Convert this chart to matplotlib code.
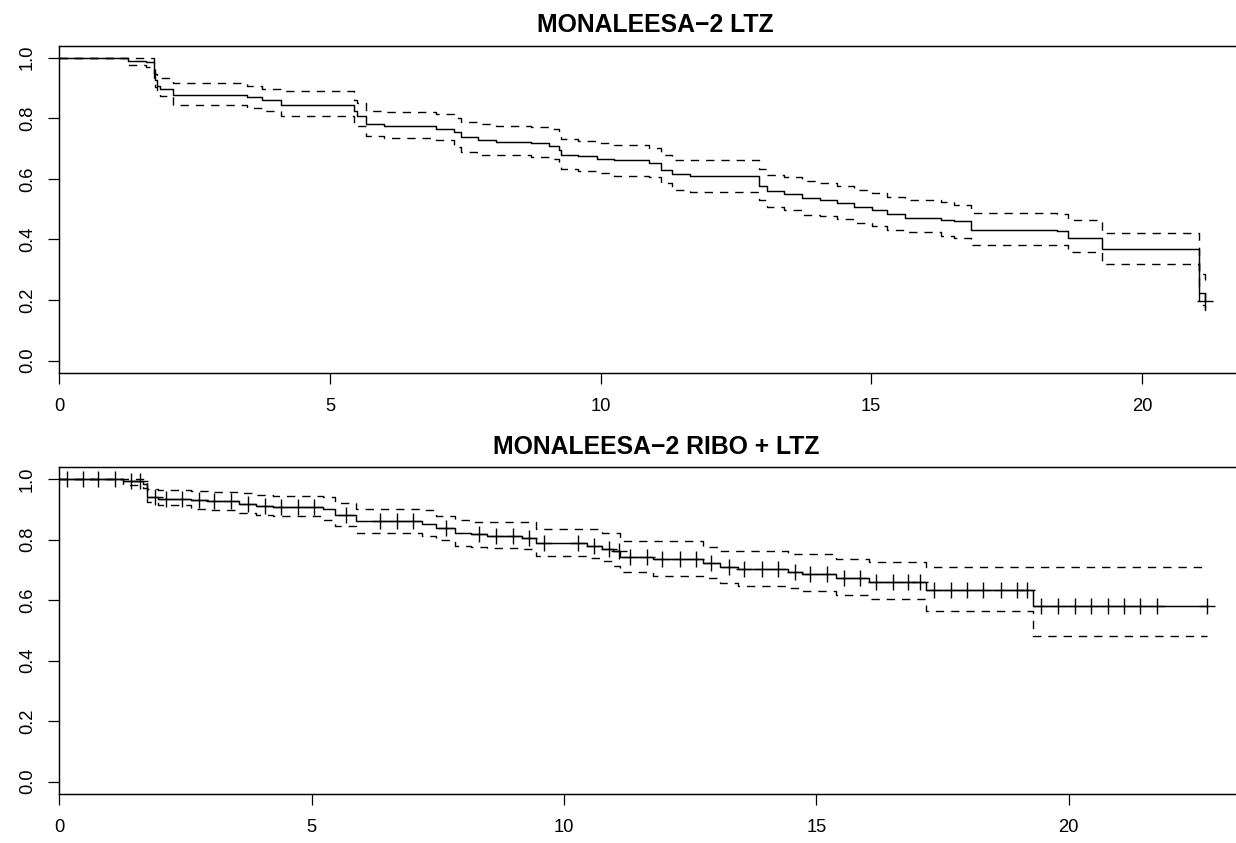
import numpy as np
import matplotlib
matplotlib.use("Agg")
import matplotlib.pyplot as plt

plt.rcParams["font.family"] = ["Liberation Sans", "DejaVu Sans"]
plt.rcParams["lines.scale_dashes"] = False

# ---- MONALEESA-2, letrozole arm: event times, survival and 95% CI ----
ltz_time = [0.00, 1.26, 1.61, 1.75, 1.77, 1.80, 1.86, 2.10, 3.46, 3.75, 4.09,
            5.45, 5.50, 5.67, 5.99, 6.96, 7.30, 7.43, 7.73, 8.07, 8.72, 9.05,
            9.23, 9.26, 9.59, 9.93, 10.24, 10.89, 11.12, 11.32, 11.65, 12.92,
            13.08, 13.38, 13.72, 14.06, 14.37, 14.69, 15.01, 15.30, 15.63,
            16.28, 16.52, 16.84, 18.43, 18.63, 19.26, 21.05, 21.17]
ltz_surv = [1.000, 0.988, 0.985, 0.949, 0.927, 0.908, 0.898, 0.878, 0.869,
            0.859, 0.845, 0.823, 0.809, 0.781, 0.776, 0.765, 0.754, 0.737,
            0.727, 0.723, 0.718, 0.710, 0.696, 0.680, 0.675, 0.667, 0.662,
            0.652, 0.630, 0.615, 0.609, 0.578, 0.559, 0.549, 0.536, 0.529,
            0.520, 0.506, 0.496, 0.483, 0.472, 0.463, 0.460, 0.431, 0.428,
            0.406, 0.369, 0.222, 0.196]
ltz_upper = [1.000, 1.000, 1.000, 0.975, 0.945, 0.933, 0.933, 0.917, 0.908,
             0.898, 0.889, 0.862, 0.850, 0.825, 0.821, 0.813, 0.800, 0.787,
             0.781, 0.773, 0.770, 0.765, 0.745, 0.731, 0.724, 0.718, 0.713,
             0.702, 0.680, 0.662, 0.662, 0.632, 0.614, 0.605, 0.592, 0.586,
             0.578, 0.565, 0.553, 0.540, 0.530, 0.523, 0.515, 0.487, 0.485,
             0.463, 0.420, 0.285, 0.255]
ltz_lower = [1.000, 0.975, 0.968, 0.925, 0.903, 0.885, 0.872, 0.843, 0.835,
             0.823, 0.806, 0.784, 0.773, 0.741, 0.735, 0.728, 0.705, 0.690,
             0.680, 0.678, 0.672, 0.665, 0.645, 0.632, 0.625, 0.618, 0.611,
             0.605, 0.586, 0.564, 0.556, 0.529, 0.506, 0.498, 0.482, 0.476,
             0.469, 0.455, 0.446, 0.432, 0.424, 0.413, 0.405, 0.383, 0.381,
             0.359, 0.319, 0.185, 0.160]
ltz_end = 21.17
ltz_censor = [21.17]

# ---- MONALEESA-2, ribociclib + letrozole arm ----
ribo_time = [0.00, 1.27, 1.66, 1.74, 1.96, 2.61, 2.94, 3.57, 3.90, 4.23, 5.22,
             5.47, 5.87, 7.18, 7.47, 7.84, 8.15, 8.48, 9.16, 9.44, 10.45,
             10.75, 10.98, 11.11, 11.77, 12.76, 13.10, 13.44, 14.43, 14.72,
             15.39, 16.05, 17.18, 19.30]
ribo_surv = [1.000, 0.993, 0.985, 0.940, 0.936, 0.930, 0.927, 0.919, 0.913,
             0.907, 0.902, 0.883, 0.861, 0.851, 0.838, 0.823, 0.818, 0.812,
             0.805, 0.790, 0.781, 0.770, 0.762, 0.744, 0.735, 0.724, 0.711,
             0.702, 0.694, 0.688, 0.672, 0.662, 0.633, 0.580]
ribo_upper = [1.000, 1.000, 1.000, 0.967, 0.965, 0.961, 0.958, 0.954, 0.949,
              0.944, 0.940, 0.920, 0.903, 0.897, 0.880, 0.864, 0.860, 0.860,
              0.860, 0.836, 0.836, 0.823, 0.823, 0.797, 0.795, 0.776, 0.762,
              0.762, 0.752, 0.752, 0.735, 0.727, 0.710, 0.710]
ribo_lower = [1.000, 0.980, 0.970, 0.924, 0.915, 0.903, 0.899, 0.889, 0.883,
              0.877, 0.866, 0.844, 0.822, 0.812, 0.798, 0.781, 0.777, 0.774,
              0.768, 0.746, 0.741, 0.730, 0.713, 0.693, 0.680, 0.672, 0.658,
              0.647, 0.641, 0.632, 0.616, 0.605, 0.563, 0.481]
ribo_end = 22.74
ribo_censor = [0.15, 0.46, 0.77, 1.10, 1.43, 1.60, 1.89, 2.12, 2.44, 2.76,
               3.07, 3.41, 3.74, 4.07, 4.40, 4.72, 5.04, 5.69, 6.35, 6.69,
               7.01, 7.67, 8.31, 8.66, 8.99, 9.30, 9.61, 10.27, 10.60, 10.90,
               11.08, 11.31, 11.64, 11.94, 12.30, 12.62, 12.92, 13.26, 13.57,
               13.92, 14.25, 14.58, 14.88, 15.21, 15.54, 15.87, 16.19, 16.52,
               16.81, 17.06, 17.33, 17.66, 17.99, 18.31, 18.65, 18.97, 19.18,
               19.46, 19.78, 20.12, 20.44, 20.77, 21.09, 21.42, 21.75, 22.74]

x_ticks = [0, 5, 10, 15, 20]
y_ticks = [0.0, 0.2, 0.4, 0.6, 0.8, 1.0]
titles = ["MONALEESA\u22122 LTZ", "MONALEESA\u22122 RIBO + LTZ"]

W, H = 1236, 843
fig = plt.figure(figsize=(W / 100, H / 100), dpi=100)


def panel(left, top, px_per_unit, t_end, bottom):
    xmax = t_end * 1.04
    right = left + xmax * px_per_unit
    ax = fig.add_axes([left / W, 1 - bottom / H, (right - left) / W, (bottom - top) / H])
    ax.set_xlim(0, xmax)
    ax.set_ylim(-0.04, 1.04)
    return ax


def draw(ax, t, s, up, lo, t_end, censor, title):
    tt = np.append(t, t_end)
    for vals in (up, lo):
        vv = np.append(vals, vals[-1])
        ax.plot(tt, vv, drawstyle="steps-post", color="black", lw=1.0,
                linestyle=(0, (6.0, 5.0)))
    ss = np.append(s, s[-1])
    ax.plot(tt, ss, drawstyle="steps-post", color="black", lw=1.05)
    cen = np.asarray(censor)
    idx = np.searchsorted(np.asarray(t), cen, side="right") - 1
    ax.plot(cen, np.asarray(s)[idx], linestyle="none", marker="+",
            markersize=11.5, markeredgewidth=1.0, color="black")

    ax.set_xticks(x_ticks)
    ax.set_xticklabels([str(v) for v in x_ticks])
    ax.set_yticks(y_ticks)
    ax.set_yticklabels([f"{v:.1f}" for v in y_ticks], rotation=90, va="center")
    ax.tick_params(axis="both", direction="out", length=7.9, width=0.9,
                   labelsize=13.2, colors="black")
    ax.tick_params(axis="x", pad=10.3)
    ax.tick_params(axis="y", pad=9.0)
    for sp in ax.spines.values():
        sp.set_linewidth(1.05)
        sp.set_color("black")
    ax.set_title(title, fontsize=17.8, fontweight="bold", pad=9.8)


ax1 = panel(59.3, 45.6, 54.13, ltz_end, 372.8)
draw(ax1, ltz_time, ltz_surv, ltz_upper, ltz_lower, ltz_end, ltz_censor, titles[0])

ax2 = panel(59.3, 467.2, 50.47, ribo_end, 793.8)
draw(ax2, ribo_time, ribo_surv, ribo_upper, ribo_lower, ribo_end, ribo_censor, titles[1])

fig.savefig("out.png", dpi=100, facecolor="white")
